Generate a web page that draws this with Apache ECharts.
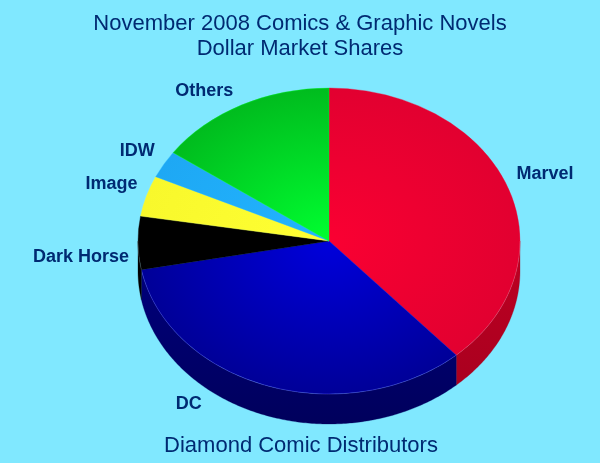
<!DOCTYPE html>
<html><head><meta charset="utf-8">
<style>html,body{margin:0;padding:0;background:#80e8ff}#c{width:600px;height:463px}</style>
<script src="https://cdn.jsdelivr.net/npm/echarts@6/dist/echarts.min.js"></script>
</head><body><div id="c"></div>
<script>
const categories = ["Marvel","DC","Dark Horse","Image","IDW","Others"];
const shares = [38.4,33.6,5.6,4.3,2.9,15.2];
const titleLines = "November 2008 Comics & Graphic Novels\nDollar Market Shares";
const footer = "Diamond Comic Distributors";

const topInner = ["#fa0032","#0000dc","#000000","#ffff33","#22b4ff","#00ff30"];
const topOuter = ["#e20030","#000098","#000000","#f8f82c","#1ea8f4","#00bc1e"];
const sideTop  = ["#be0022","#000080","#000000","#c0c020","#1070c0","#008018"];
const sideLow  = ["#a4001e","#00005c","#000000","#c0c020","#1070c0","#008018"];
const labelShift = [[9,-13],[-66,17],[-9,13],[-9,-13],[-9,-14],[-8,-15]];

const CX=329, CY=241, RX=191, RY=153, DEPTH=30, TEXT="#002a72";
const total = shares.reduce((a,b)=>a+b,0);
let acc=0;
const rows = shares.map((v,i)=>{const r=[acc/total*2*Math.PI,(acc+v)/total*2*Math.PI,i];acc+=v;return r;});

function pt(a,dy){return [CX+RX*Math.sin(a),CY-RY*Math.cos(a)+(dy||0)];}

function renderItem(params,api){
  const a0=api.value(0),a1=api.value(1),i=api.value(2);
  const children=[];
  const f0=Math.max(a0,Math.PI/2),f1=Math.min(a1,Math.PI*1.5);
  let rim=null;
  if(f1>f0){
    const up=[],down=[];
    const n=Math.max(2,Math.ceil((f1-f0)*90));
    for(let k=0;k<=n;k++){const a=f0+(f1-f0)*k/n;up.push(pt(a));down.unshift(pt(a,DEPTH));}
    rim=up;
    children.push({type:'polygon',shape:{points:up.concat(down)},
      style:{fill:{type:'linear',global:true,x:0,y:CY,x2:0,y2:CY+RY+DEPTH,
        colorStops:[{offset:0,color:sideTop[i]},{offset:1,color:sideLow[i]}]},stroke:sideLow[i],lineWidth:0.3}});
  }
  children.push({type:'sector',x:CX,y:CY,scaleY:RY/RX,
    shape:{cx:0,cy:0,r0:0,r:RX,startAngle:a0-Math.PI/2,endAngle:a1-Math.PI/2,clockwise:true},
    style:{fill:{type:'radial',global:true,x:0,y:0,r:RX,
      colorStops:[{offset:0,color:topInner[i]},{offset:1,color:topOuter[i]}]},stroke:topInner[i],lineWidth:0.4}});
  if(rim){
    children.push({type:'polyline',shape:{points:rim},
      style:{fill:'none',stroke:'rgba(255,255,255,0.22)',lineWidth:0.7}});
  }
  const mid=pt((a0+a1)/2);
  const s=labelShift[i];
  children.push({type:'text',x:mid[0]+s[0],y:mid[1]+s[1]+1,z2:10,
    style:{text:categories[i],fill:TEXT,font:'bold 18px "Liberation Sans",Arial,sans-serif',
      align:i===0?'left':'right',verticalAlign:'middle'}});
  return {type:'group',children};
}

const chart=echarts.init(document.getElementById('c'),null,{renderer:'canvas'});
chart.setOption({
  animation:false,
  backgroundColor:'#80e8ff',
  title:[
    {text:titleLines,left:295,top:6,textAlign:'center',
      textStyle:{color:TEXT,fontFamily:'"Liberation Sans",Arial,sans-serif',fontSize:22,fontWeight:'normal',lineHeight:25}},
    {text:footer,left:296,top:430,textAlign:'center',
      textStyle:{color:TEXT,fontFamily:'"Liberation Sans",Arial,sans-serif',fontSize:22,fontWeight:'normal'}}
  ],
  series:[{type:'custom',coordinateSystem:'none',renderItem,data:rows,silent:true,
    dimensions:['a0','a1','i'],encode:{}}]
});
</script></body></html>
